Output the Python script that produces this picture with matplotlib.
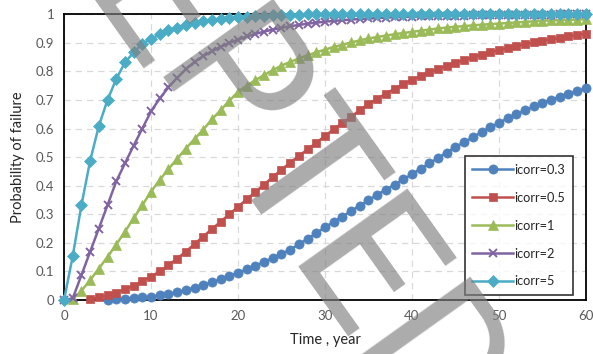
import numpy as np
import matplotlib
matplotlib.use("Agg")
import matplotlib.pyplot as plt

##################################################################
# data read off the chart : probability of failure vs time (year)
years = list(range(0, 61))

# icorr = 0.3 (first point at year 5)
p_03 = [None, None, None, None, None,
        0.000, 0.002, 0.004, 0.006, 0.009, 0.012, 0.016, 0.021, 0.027, 0.035,
        0.043, 0.052, 0.062, 0.072, 0.083, 0.095, 0.107, 0.120, 0.133, 0.147,
        0.161, 0.176, 0.195, 0.214, 0.234, 0.254, 0.273, 0.292, 0.311, 0.330,
        0.349, 0.368, 0.386, 0.404, 0.422, 0.440, 0.459, 0.478, 0.497, 0.516,
        0.535, 0.552, 0.569, 0.587, 0.604, 0.620, 0.635, 0.649, 0.663, 0.677,
        0.690, 0.701, 0.711, 0.721, 0.731, 0.740]

# icorr = 0.5 (first point at year 3)
p_05 = [None, None, None,
        0.003, 0.009, 0.017, 0.026, 0.037, 0.050, 0.065, 0.082, 0.100, 0.122,
        0.145, 0.169, 0.196, 0.222, 0.248, 0.274, 0.300, 0.326, 0.352, 0.378,
        0.404, 0.430, 0.456, 0.480, 0.504, 0.527, 0.550, 0.574, 0.597, 0.619,
        0.641, 0.664, 0.686, 0.704, 0.722, 0.739, 0.755, 0.770, 0.783, 0.796,
        0.808, 0.819, 0.830, 0.840, 0.849, 0.858, 0.866, 0.874, 0.881, 0.888,
        0.895, 0.901, 0.907, 0.912, 0.917, 0.922, 0.927, 0.932]

# icorr = 1
p_1 = [None,
       0.003, 0.032, 0.070, 0.110, 0.151, 0.194, 0.239, 0.286, 0.332, 0.379,
       0.420, 0.458, 0.494, 0.530, 0.563, 0.596, 0.632, 0.664, 0.697, 0.728,
       0.750, 0.769, 0.787, 0.804, 0.820, 0.833, 0.845, 0.856, 0.866, 0.876,
       0.885, 0.893, 0.901, 0.908, 0.915, 0.920, 0.925, 0.930, 0.934, 0.938,
       0.942, 0.946, 0.950, 0.953, 0.956, 0.958, 0.961, 0.963, 0.965, 0.967,
       0.969, 0.971, 0.973, 0.975, 0.977, 0.978, 0.979, 0.980, 0.981, 0.982]

# icorr = 2
p_2 = [0.000,
       0.006, 0.087, 0.169, 0.250, 0.332, 0.415, 0.478, 0.540, 0.600, 0.660,
       0.705, 0.744, 0.777, 0.807, 0.833, 0.853, 0.870, 0.886, 0.899, 0.911,
       0.922, 0.931, 0.939, 0.946, 0.952, 0.958, 0.962, 0.967, 0.970, 0.974,
       0.976, 0.979, 0.981, 0.983, 0.985, 0.986, 0.988, 0.989, 0.990, 0.991,
       0.992, 0.993, 0.993, 0.994, 0.995, 0.995, 0.996, 0.996, 0.996, 0.997,
       0.997, 0.997, 0.998, 0.998, 0.998, 0.998, 0.999, 0.999, 0.999, 0.999]

# icorr = 5
p_5 = [0.000,
       0.154, 0.332, 0.487, 0.609, 0.700, 0.773, 0.831, 0.866, 0.897, 0.913,
       0.929, 0.944, 0.952, 0.962, 0.970, 0.975, 0.979, 0.983, 0.986, 0.989,
       0.991, 0.993, 0.995, 0.996, 0.997, 0.998, 0.998, 0.999, 0.999, 1.000,
       1.000, 1.000, 1.000, 1.000, 1.000, 1.000, 1.000, 1.000, 1.000, 1.000,
       1.000, 1.000, 1.000, 1.000, 1.000, 1.000, 1.000, 1.000, 1.000, 1.000,
       1.000, 1.000, 1.000, 1.000, 1.000, 1.000, 1.000, 1.000, 1.000, 1.000]

labels = ["icorr=0.3", "icorr=0.5", "icorr=1", "icorr=2", "icorr=5"]
xticks = [0, 10, 20, 30, 40, 50, 60]
yticks = [0, 0.1, 0.2, 0.3, 0.4, 0.5, 0.6, 0.7, 0.8, 0.9, 1]
ytick_labels = ["0", "0.1", "0.2", "0.3", "0.4", "0.5", "0.6", "0.7", "0.8", "0.9", "1"]

##################################################################
# styles (excel defaults)
colors = ["#4F81BD", "#C0504D", "#9BBB59", "#8064A2", "#4BACC6"]
markers = ["o", "s", "^", "x", "D"]
msizes = [6.6, 6.4, 7.0, 6.0, 5.8]

plt.rcParams['font.family'] = ['Lato', 'DejaVu Sans']

fig = plt.figure(figsize=(5.93, 3.54), dpi=100)
ax = fig.add_axes([0.108, 0.1525, 0.880, 0.8075])

series = [p_03, p_05, p_1, p_2, p_5]
for s, lab, c, m, ms in zip(series, labels, colors, markers, msizes):
  y = np.array([np.nan if v is None else v for v in s], dtype=float)
  ax.plot(years, y, color=c, marker=m, markersize=ms, linewidth=1.8,
          markeredgewidth=1.4 if m == "x" else 0.5, markeredgecolor=c,
          label=lab, clip_on=False, zorder=3)

ax.set_xlim(0, 60)
ax.set_ylim(0, 1)
ax.set_xticks(xticks)
ax.set_yticks(yticks)
ax.set_yticklabels(ytick_labels)
ax.tick_params(length=0, labelsize=9.5, colors="#595959", pad=7)
ax.grid(True, color="#d9d9d9", linestyle=(0, (5, 4)), linewidth=0.9)
ax.set_axisbelow(True)
for sp in ax.spines.values():
  sp.set_color("black")
  sp.set_linewidth(1.3)

ax.set_xlabel("Time , year", fontsize=10.5, color="#262626", labelpad=8)
ax.set_ylabel("Probability of failure", fontsize=10.5, color="#262626", labelpad=8)

leg = ax.legend(loc="lower right", bbox_to_anchor=(0.975, 0.017), fontsize=9.2,
                frameon=True, fancybox=False, edgecolor="black",
                labelspacing=1.25, handlelength=3.2, handletextpad=0.1,
                borderpad=0.6, borderaxespad=0)
leg.get_frame().set_linewidth(1.2)
for t in leg.get_texts():
  t.set_color("#262626")

##################################################################
# "ACCEPTED" watermark running across the picture
wm = dict(fontsize=137, family="Roboto", weight="normal", color="#808080",
          alpha=0.66, rotation=-54.5, rotation_mode="anchor", va="baseline",
          zorder=10)
fig.text(0.246, 0.785, "ACCE", ha="right", **wm)
fig.text(0.246, 0.785, "PTED", ha="left", **wm)

fig.savefig("out.png", dpi=100)
